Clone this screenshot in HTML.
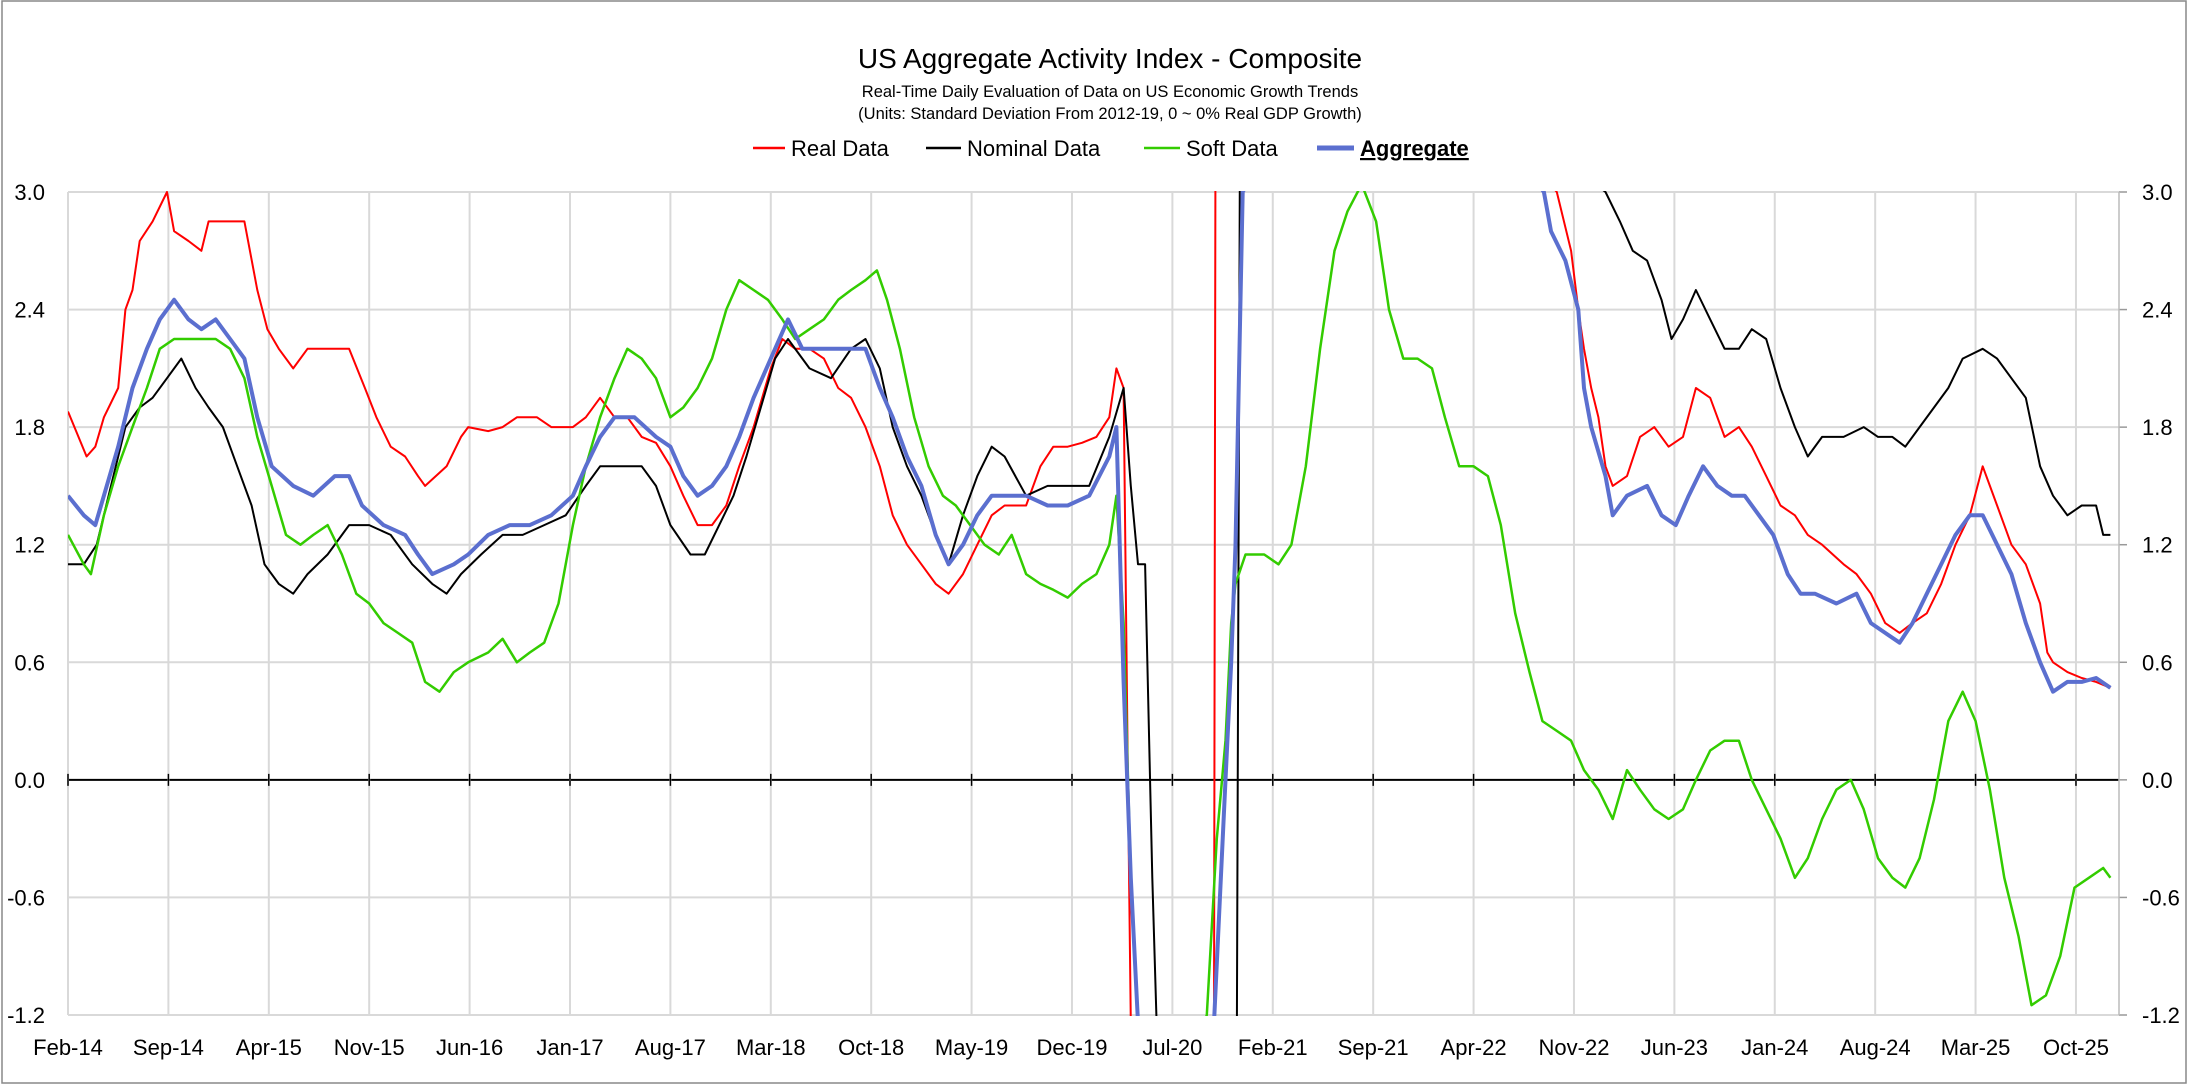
<!DOCTYPE html>
<html><head><meta charset="utf-8"><style>
html,body{margin:0;padding:0;background:#fff;width:2188px;height:1086px;overflow:hidden;}
svg{display:block;font-family:"Liberation Sans",Arial,sans-serif;}
</style></head><body>
<svg id="chart" width="2188" height="1086" viewBox="0 0 2188 1086" xmlns="http://www.w3.org/2000/svg">
<rect x="2" y="1" width="2184" height="1082" fill="#fff" stroke="#888" stroke-width="1.5"/>
<text x="1110" y="68" text-anchor="middle" font-size="28" fill="#000">US Aggregate Activity Index - Composite</text>
<text x="1110" y="97" text-anchor="middle" font-size="16.5" fill="#000">Real-Time Daily Evaluation of Data on US Economic Growth Trends</text>
<text x="1110" y="119" text-anchor="middle" font-size="16.5" fill="#000">(Units: Standard Deviation From 2012-19, 0 ~ 0% Real GDP Growth)</text>
<g font-size="22">
<g><line x1="753" y1="148" x2="785" y2="148" stroke="#ff0000" stroke-width="2.5"/><text x="791" y="156">Real Data</text></g>
<g><line x1="926" y1="148" x2="961" y2="148" stroke="#000" stroke-width="2.5"/><text x="967" y="156">Nominal Data</text></g>
<g><line x1="1144" y1="148" x2="1180" y2="148" stroke="#33cc00" stroke-width="2.5"/><text x="1186" y="156">Soft Data</text></g>
<g><line x1="1317" y1="148" x2="1354" y2="148" stroke="#5b6fcf" stroke-width="5"/><text x="1360" y="156" font-weight="bold" text-decoration="underline">Aggregate</text></g>
</g>
<defs><clipPath id="plotclip"><rect x="68" y="191" width="2051" height="825"/></clipPath></defs>
<g id="grid"></g>
<g id="axes"></g>
<g id="series" clip-path="url(#plotclip)"></g>
</svg>
<script>
const xTickLabels=["Feb-14","Sep-14","Apr-15","Nov-15","Jun-16","Jan-17","Aug-17","Mar-18","Oct-18","May-19","Dec-19","Jul-20","Feb-21","Sep-21","Apr-22","Nov-22","Jun-23","Jan-24","Aug-24","Mar-25","Oct-25"];
const xTickMonths=[0,7,14,21,28,35,42,49,56,63,70,77,84,91,98,105,112,119,126,133,140];
const yTicks=[3.0,2.4,1.8,1.2,0.6,0.0,-0.6,-1.2];
// t = months since Feb-2014
const realT=[0,1.3,1.9,2.5,3.5,4.0,4.5,5.0,5.9,6.9,7.4,8.4,9.3,9.8,10.8,12.3,13.2,13.9,14.7,15.7,16.7,18.1,19.6,20.7,21.5,22.5,23.5,24.4,24.9,26.4,27.4,27.9,29.3,30.3,31.3,32.7,33.7,35.2,36.1,37.1,38.1,39.0,40.0,41.0,42.0,42.9,43.9,44.9,45.9,46.8,47.8,49.0,49.8,50.7,51.7,52.7,53.7,54.6,55.6,56.6,57.5,58.5,59.5,60.5,61.4,62.4,63.4,64.4,65.3,66.8,67.8,68.7,69.7,70.7,71.7,72.6,73.1,73.6,73.9,74.1,75,79.9,80.0,103,103.3,103.8,104.8,105.3,105.7,106.2,106.7,107.2,107.7,108.7,109.6,110.6,111.6,112.6,113.5,114.5,115.5,116.5,117.4,118.4,119.4,120.4,121.3,122.3,123.8,124.7,125.7,126.7,127.7,128.6,129.6,130.6,131.6,132.6,133.5,134.0,134.5,135.5,136.5,137.5,138.0,138.4,139.4,140.4,141.4,142.4];
const realV=[1.88,1.65,1.7,1.85,2.0,2.4,2.5,2.75,2.85,3.0,2.8,2.75,2.7,2.85,2.85,2.85,2.5,2.3,2.2,2.1,2.2,2.2,2.2,2.0,1.85,1.7,1.65,1.55,1.5,1.6,1.75,1.8,1.78,1.8,1.85,1.85,1.8,1.8,1.85,1.95,1.85,1.85,1.75,1.72,1.6,1.45,1.3,1.3,1.4,1.6,1.8,2.1,2.25,2.2,2.2,2.15,2.0,1.95,1.8,1.6,1.35,1.2,1.1,1.0,0.95,1.05,1.2,1.35,1.4,1.4,1.6,1.7,1.7,1.72,1.75,1.85,2.1,2.0,0.0,-1.5,-3,-3,4,4,3.3,3.0,2.7,2.4,2.2,2.0,1.85,1.6,1.5,1.55,1.75,1.8,1.7,1.75,2.0,1.95,1.75,1.8,1.7,1.55,1.4,1.35,1.25,1.2,1.1,1.05,0.95,0.8,0.75,0.8,0.85,1.0,1.2,1.35,1.6,1.5,1.4,1.2,1.1,0.9,0.65,0.6,0.55,0.52,0.5,0.47];
const nominalT=[0,1.1,2.0,3.0,4.0,5.0,5.9,6.9,7.9,8.9,9.8,10.8,11.8,12.8,13.7,14.7,15.7,16.7,18.1,19.6,21.0,22.5,24.0,25.4,26.4,27.4,28.8,30.3,31.7,33.2,34.7,36.1,37.1,38.6,40.0,41.0,42.0,43.4,44.4,45.4,46.4,47.3,48.3,49.3,50.2,51.7,53.2,54.6,55.6,56.6,57.5,58.5,59.5,60.5,61.4,62.4,63.4,64.4,65.3,66.8,68.3,69.7,71.2,72.6,73.6,74.1,74.6,75.1,75.6,75.9,76,81.5,81.7,106.5,107.2,108.2,109.1,110.1,111.1,111.8,112.6,113.5,114.5,115.5,116.5,117.4,118.4,119.4,120.4,121.3,122.3,123.8,125.2,126.2,127.2,128.1,129.1,130.1,131.1,132.1,133.5,134.5,135.5,136.5,137.5,138.4,139.4,140.4,141.4,141.9,142.4];
const nominalV=[1.1,1.1,1.2,1.5,1.8,1.9,1.95,2.05,2.15,2.0,1.9,1.8,1.6,1.4,1.1,1.0,0.95,1.05,1.15,1.3,1.3,1.25,1.1,1.0,0.95,1.05,1.15,1.25,1.25,1.3,1.35,1.5,1.6,1.6,1.6,1.5,1.3,1.15,1.15,1.3,1.45,1.65,1.9,2.15,2.25,2.1,2.05,2.2,2.25,2.1,1.8,1.6,1.45,1.25,1.1,1.35,1.55,1.7,1.65,1.45,1.5,1.5,1.5,1.75,2.0,1.5,1.1,1.1,-0.5,-1.5,-3,-3,4,4,3.0,2.85,2.7,2.65,2.45,2.25,2.35,2.5,2.35,2.2,2.2,2.3,2.25,2.0,1.8,1.65,1.75,1.75,1.8,1.75,1.75,1.7,1.8,1.9,2.0,2.15,2.2,2.15,2.05,1.95,1.6,1.45,1.35,1.4,1.4,1.25,1.25];
const softT=[0,1.1,1.6,2.5,3.5,4.5,5.5,6.4,7.4,8.4,9.3,10.3,11.3,12.3,13.2,14.2,15.2,16.2,17.1,18.1,19.1,20.1,21.0,22.0,23.0,24.0,24.9,25.9,26.9,27.9,29.3,30.3,31.3,32.2,33.2,34.2,35.2,36.1,37.1,38.1,39.0,40.0,41.0,42.0,42.9,43.9,44.9,45.9,46.8,47.8,48.8,49.8,50.7,51.7,52.7,53.7,54.6,55.6,56.4,57.1,58.0,59.0,60.0,61.0,61.9,62.9,63.9,64.9,65.8,66.8,67.8,68.7,69.7,70.7,71.7,72.6,73.1,73.6,74.1,74.6,75,79.2,79.4,80.1,80.7,81.1,81.4,82.1,83.4,84.4,85.3,86.3,87.3,88.3,89.2,90.2,91.2,92.1,93.1,94.1,95.1,96.0,97.0,98.0,99.0,99.9,100.9,101.9,102.8,103.8,104.8,105.7,106.7,107.7,108.7,109.6,110.6,111.6,112.6,113.5,114.5,115.5,116.5,117.4,118.4,119.4,120.4,121.3,122.3,123.3,124.3,125.2,126.2,127.2,128.1,129.1,130.1,131.1,132.1,133.0,134.0,135.0,136.0,136.9,137.9,138.9,139.9,140.9,141.9,142.4];
const softV=[1.25,1.1,1.05,1.35,1.6,1.8,2.0,2.2,2.25,2.25,2.25,2.25,2.2,2.05,1.75,1.5,1.25,1.2,1.25,1.3,1.15,0.95,0.9,0.8,0.75,0.7,0.5,0.45,0.55,0.6,0.65,0.72,0.6,0.65,0.7,0.9,1.3,1.6,1.85,2.05,2.2,2.15,2.05,1.85,1.9,2.0,2.15,2.4,2.55,2.5,2.45,2.35,2.25,2.3,2.35,2.45,2.5,2.55,2.6,2.45,2.2,1.85,1.6,1.45,1.4,1.3,1.2,1.15,1.25,1.05,1.0,0.97,0.93,1.0,1.05,1.2,1.45,0.8,-0.5,-1.5,-3,-3,-1.2,-0.3,0.2,0.8,1.0,1.15,1.15,1.1,1.2,1.6,2.2,2.7,2.9,3.05,2.85,2.4,2.15,2.15,2.1,1.85,1.6,1.6,1.55,1.3,0.85,0.55,0.3,0.25,0.2,0.05,-0.05,-0.2,0.05,-0.05,-0.15,-0.2,-0.15,0.0,0.15,0.2,0.2,0.0,-0.15,-0.3,-0.5,-0.4,-0.2,-0.05,0.0,-0.15,-0.4,-0.5,-0.55,-0.4,-0.1,0.3,0.45,0.3,-0.05,-0.5,-0.8,-1.15,-1.1,-0.9,-0.55,-0.5,-0.45,-0.5];
const aggT=[0,1.1,1.9,2.5,3.5,4.5,5.5,6.4,7.4,8.4,9.3,10.3,11.3,12.3,13.2,14.2,15.7,17.1,18.6,19.6,20.5,22.0,23.5,24.4,25.4,26.9,27.9,29.3,30.8,32.2,33.7,35.2,36.1,37.1,38.1,39.5,41.0,42.0,42.9,43.9,44.9,45.9,46.8,47.8,49.0,50.2,51.2,52.7,54.1,55.6,56.6,57.5,58.5,59.5,60.5,61.4,62.4,63.4,64.4,65.3,66.8,68.3,69.7,71.2,72.6,73.1,73.6,74.1,74.6,75,79.6,79.9,80.7,81.1,81.4,81.9,82.2,102.5,102.9,103.4,104.4,105.3,105.7,106.2,107.2,107.7,108.7,110.1,111.1,112.1,113.0,114.0,115.0,116.0,116.9,117.9,118.9,119.9,120.8,121.8,123.3,124.7,125.7,126.7,127.7,128.6,129.6,130.6,131.6,132.6,133.5,134.5,135.5,136.5,137.5,138.4,139.4,140.4,141.4,142.4];
const aggV=[1.45,1.35,1.3,1.45,1.7,2.0,2.2,2.35,2.45,2.35,2.3,2.35,2.25,2.15,1.85,1.6,1.5,1.45,1.55,1.55,1.4,1.3,1.25,1.15,1.05,1.1,1.15,1.25,1.3,1.3,1.35,1.45,1.6,1.75,1.85,1.85,1.75,1.7,1.55,1.45,1.5,1.6,1.75,1.95,2.15,2.35,2.2,2.2,2.2,2.2,2.0,1.85,1.65,1.5,1.25,1.1,1.2,1.35,1.45,1.45,1.45,1.4,1.4,1.45,1.65,1.8,0.5,-0.5,-1.5,-3,-3,-1.5,0,0.6,1.2,3.0,4,4,3.0,2.8,2.65,2.4,2.0,1.8,1.55,1.35,1.45,1.5,1.35,1.3,1.45,1.6,1.5,1.45,1.45,1.35,1.25,1.05,0.95,0.95,0.9,0.95,0.8,0.75,0.7,0.8,0.95,1.1,1.25,1.35,1.35,1.2,1.05,0.8,0.6,0.45,0.5,0.5,0.52,0.47];

const NS="http://www.w3.org/2000/svg";
const L=68,R=2119,T=192,B=1015,yMin=-1.2,yMax=3.0,tMin=0,tMax=143;
const gx=function(t){return L+(t-tMin)/(tMax-tMin)*(R-L);};
const gy=function(v){return B-(v-yMin)/(yMax-yMin)*(B-T);};
function mk(tag,parent){const e=document.createElementNS(NS,tag);parent.appendChild(e);return e;}
const grid=document.getElementById('grid'),axes=document.getElementById('axes'),series=document.getElementById('series');
yTicks.forEach(function(v){
  const ln=mk('line',grid);
  
  
  ln.setAttribute('x1',L);ln.setAttribute('x2',R);ln.setAttribute('y1',gy(v));ln.setAttribute('y2',gy(v));
  ln.setAttribute('stroke',v===0?'#000':'#d9d9d9');ln.setAttribute('stroke-width',2);
  const a=mk('text',axes);
  
  
  a.setAttribute('x',45);a.setAttribute('y',gy(v)+8);a.setAttribute('text-anchor','end');a.setAttribute('font-size','22');
  a.textContent=v.toFixed(1);
  const b=mk('text',axes);
  
  
  b.setAttribute('x',2142);b.setAttribute('y',gy(v)+8);b.setAttribute('font-size','22');
  b.textContent=v.toFixed(1);
  const tk=mk('line',axes);
  
  
  tk.setAttribute('x1',R);tk.setAttribute('x2',R+8);tk.setAttribute('y1',gy(v));tk.setAttribute('y2',gy(v));tk.setAttribute('stroke','#999');tk.setAttribute('stroke-width','1.5');
});
xTickMonths.forEach(function(m,i){
  const ln=mk('line',grid);
  
  
  ln.setAttribute('x1',gx(m));ln.setAttribute('x2',gx(m));ln.setAttribute('y1',T);ln.setAttribute('y2',B);
  ln.setAttribute('stroke','#d9d9d9');ln.setAttribute('stroke-width','2');
  const tk=mk('line',axes);
  
  
  tk.setAttribute('x1',gx(m));tk.setAttribute('x2',gx(m));tk.setAttribute('y1',gy(0)-6);tk.setAttribute('y2',gy(0)+6);tk.setAttribute('stroke','#000');tk.setAttribute('stroke-width','1.5');
  const t=mk('text',axes);
  
  
  t.setAttribute('x',gx(m));t.setAttribute('y',1055);t.setAttribute('text-anchor','middle');t.setAttribute('font-size','22');
  t.textContent=xTickLabels[i];
});
const topLine=mk('line',grid);


topLine.setAttribute('x1',L);topLine.setAttribute('x2',R);topLine.setAttribute('y1',T);topLine.setAttribute('y2',T);topLine.setAttribute('stroke','#d9d9d9');topLine.setAttribute('stroke-width','2');
const rAxis=mk('line',axes);


rAxis.setAttribute('x1',R);rAxis.setAttribute('x2',R);rAxis.setAttribute('y1',T);rAxis.setAttribute('y2',B);rAxis.setAttribute('stroke','#bbb');rAxis.setAttribute('stroke-width','1.5');
function clampV(v){return Math.max(yMin-0.04,Math.min(yMax+0.04,v));}
function drawSeries(ts,vs,color,w,name){
  let d='';
  for(let i=0;i<ts.length;i++){d+=(i?'L':'M')+gx(ts[i]).toFixed(1)+','+gy(clampV(vs[i])).toFixed(1);}
  const p=mk('path',series);
  
  
  p.setAttribute('d',d);p.setAttribute('fill','none');p.setAttribute('stroke',color);p.setAttribute('stroke-width',w);p.setAttribute('stroke-linejoin','round');
}
drawSeries(realT,realV,'#ff0000',2,'real-data-line');
drawSeries(nominalT,nominalV,'#000000',2,'nominal-data-line');
drawSeries(softT,softV,'#33cc00',2.5,'soft-data-line');
drawSeries(aggT,aggV,'#5b6fcf',4,'aggregate-line');
</script>
</body></html>
